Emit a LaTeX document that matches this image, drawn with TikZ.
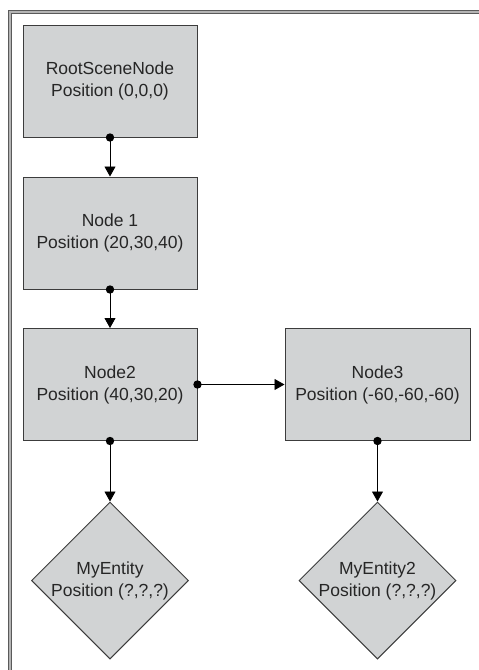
\documentclass[tikz,border=0pt]{standalone}
\usepackage{fontspec}
\setmainfont{Liberation Sans}
\usepackage{tikz}
\usetikzlibrary{arrows.meta,positioning,shapes.geometric}
\definecolor{boxfill}{HTML}{D1D3D4}
\definecolor{boxline}{HTML}{3C3C3C}
\definecolor{textgray}{HTML}{262626}
\definecolor{frameline}{HTML}{5A5A5A}
\definecolor{framecore}{HTML}{B4B4B4}
\tikzset{scenebox/.style={draw=boxline,fill=boxfill,line width=1pt,align=center,text=textgray,font=\fontsize{17.5}{22}\selectfont,inner sep=0pt,minimum height=112pt},
entity/.style={diamond,draw=boxline,fill=boxfill,line width=1pt,align=center,text=textgray,font=\fontsize{17.5}{22}\selectfont,inner sep=0pt,aspect=1,minimum width=157pt,minimum height=157pt},
link/.style={-{Triangle[length=10pt,width=11pt]},line width=0.9pt,draw=black},
dot/.style={fill=black}}

\begin{document}
\begin{tikzpicture}[x=1pt,y=-1pt]
\useasboundingbox (0,0) rectangle (479,670);
\begin{scope}
\clip (0,0) rectangle (479,670);
\draw[draw=frameline,double=framecore,line width=1.2pt,double distance=1.2pt] (10,680) -- (10,12) -- (490,12);
\end{scope}
\node[scenebox,minimum width=174pt] (root) at (110,81) {RootSceneNode\\Position (0,0,0)};
\node[scenebox,minimum width=174pt] (n1) at (110,233) {Node 1\\Position (20,30,40)};
\node[scenebox,minimum width=174pt] (n2) at (110,384.5) {Node2\\Position (40,30,20)};
\node[scenebox,minimum width=185pt] (n3) at (377.5,384.5) {Node3\\Position (-60,-60,-60)};
\node[entity] (e1) at (110,580.5) {MyEntity\\Position (?,?,?)};
\node[entity] (e2) at (377.5,580.5) {MyEntity2\\Position (?,?,?)};
\draw[link] (root.south) -- (n1.north);
\draw[link] (n1.south) -- (n2.north);
\draw[link] (n2.east) -- (n3.west);
\draw[link] (n2.south) -- (e1.north);
\draw[link] (n3.south) -- (e2.north);
\foreach \n/\a in {root/south,n1/south,n2/south,n2/east,n3/south}
  \fill[dot] (\n.\a) circle (4.2pt);
\end{tikzpicture}
\end{document}
